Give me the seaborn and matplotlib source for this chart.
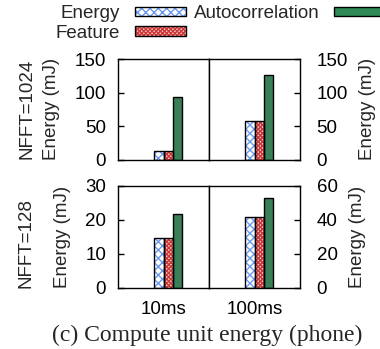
import matplotlib
matplotlib.use("Agg")
import matplotlib.pyplot as plt
from matplotlib.patches import Patch
from matplotlib.legend_handler import HandlerTuple
import seaborn as sns
import pandas as pd

# ---- data ----
groups = ["10ms", "100ms"]
series = ["Energy", "Feature", "Autocorrelation"]
nfft1024_energy = [13, 58]
nfft1024_feature = [13, 58]
nfft1024_autocorr = [93, 126]
nfft128_energy = [14.8, 41.7]
nfft128_feature = [14.8, 41.7]
nfft128_autocorr = [21.8, 52.8]
row_labels = ["NFFT=1024", "NFFT=128"]
yticks_top = [0, 50, 100, 150]
yticks_bottom_left = [0, 10, 20, 30]
yticks_bottom_right = [0, 20, 40, 60]

sns.set_theme(style="white")
plt.rcParams["font.family"] = ["Liberation Sans", "DejaVu Sans"]
plt.rcParams["font.size"] = 13.5
plt.rcParams["hatch.linewidth"] = 1.0

FS = 13.5

def make_df(e, f, a):
    rows = []
    for i, g in enumerate(groups):
        rows.append((g, "Energy", e[i]))
        rows.append((g, "Feature", f[i]))
        rows.append((g, "Autocorrelation", a[i]))
    return pd.DataFrame(rows, columns=["group", "series", "value"])

df_top = make_df(nfft1024_energy, nfft1024_feature, nfft1024_autocorr)
df_bot = make_df(nfft128_energy, nfft128_feature, nfft128_autocorr)

hue_order = ["_pad"] + series
fill_colors = {"_pad": "white", "Energy": "white", "Feature": "#f2c6c6", "Autocorrelation": "#2e8b57"}
hatch_colors = {"Energy": "#6a9af0", "Feature": "#cc3838"}
hatches = {"Energy": "xxxx", "Feature": "xxxxxxxx"}

fig = plt.figure(figsize=(3.8, 3.49), dpi=100)
W, H = 380, 349
def rect(x0, x1, ytop, ybot):
    return [x0 / W, 1 - ybot / H, (x1 - x0) / W, (ybot - ytop) / H]

axes = {
    (0, 0): fig.add_axes(rect(118, 209, 59, 160)),
    (0, 1): fig.add_axes(rect(209, 300, 59, 160)),
    (1, 0): fig.add_axes(rect(118, 209, 186, 288)),
    (1, 1): fig.add_axes(rect(209, 300, 186, 288)),
}

ylims = {(0, 0): 150, (0, 1): 150, (1, 0): 30, (1, 1): 60}
yticks = {(0, 0): yticks_top, (0, 1): yticks_top, (1, 0): yticks_bottom_left, (1, 1): yticks_bottom_right}

for (r, c), ax in axes.items():
    df = (df_top if r == 0 else df_bot)
    sub = df[df["group"] == groups[c]]
    # filled / hatched layer
    sns.barplot(data=sub, x="group", y="value", hue="series", hue_order=hue_order,
                palette=fill_colors, width=0.4, dodge=True, errorbar=None,
                linewidth=0, legend=False, ax=ax)
    bars = sorted(ax.patches, key=lambda p: p.get_x())
    for p, s in zip(bars, series):
        if s in hatches:
            p.set_hatch(hatches[s])
            p.set_edgecolor(hatch_colors[s])
            p.set_linewidth(0)
    # outline layer
    sns.barplot(data=sub, x="group", y="value", hue="series", hue_order=hue_order,
                fill=False, width=0.4, dodge=True, errorbar=None,
                edgecolor="black", linewidth=1.0, legend=False, ax=ax)
    for p in ax.patches[len(bars):]:
        p.set_edgecolor("black")
    ax.set_xlim(-0.5, 0.5)
    ax.set_ylim(0, ylims[(r, c)])
    ax.set_yticks(yticks[(r, c)])
    ax.set_xlabel("")
    ax.set_ylabel("")
    for sp in ax.spines.values():
        sp.set_visible(True)
        sp.set_color("black")
        sp.set_linewidth(1.0)
    if c == 0:
        ax.tick_params(axis="y", which="both", direction="in", length=4, width=1,
                       left=True, right=False, labelleft=True, labelright=False, pad=8.5,
                       labelsize=FS, colors="black")
    else:
        ax.yaxis.tick_right()
        ax.tick_params(axis="y", which="both", direction="in", length=4, width=1,
                       left=False, right=True, labelleft=False, labelright=True, pad=12,
                       labelsize=FS, colors="black")
    ax.tick_params(axis="x", length=0, pad=9, labelsize=FS, colors="black")
    if r == 0:
        ax.set_xticklabels([])
    ax.grid(False)

# y axis titles
ylab_pos = [(52, 109), (368, 109), (63, 237), (357, 237)]
for (x, y) in ylab_pos:
    fig.text(x / W, 1 - y / H, "Energy (mJ)", rotation=90, ha="center", va="center", fontsize=FS)

fig.text(27 / W, 1 - 109 / H, row_labels[0], rotation=90, ha="center", va="center", fontsize=FS)
fig.text(26 / W, 1 - 243 / H, row_labels[1], rotation=90, ha="center", va="center", fontsize=FS)

fig.text(207 / W, 1 - 335 / H, "(c) Compute unit energy (phone)", ha="center", va="center",
         fontsize=17, family=["Liberation Serif", "DejaVu Serif"])

def outline():
    return Patch(fill=False, edgecolor="black", linewidth=1)

handles = [
    (Patch(facecolor="white", edgecolor=hatch_colors["Energy"], hatch=hatches["Energy"], linewidth=0), outline()),
    (Patch(facecolor=fill_colors["Feature"], edgecolor=hatch_colors["Feature"], hatch=hatches["Feature"], linewidth=0), outline()),
    Patch(facecolor=fill_colors["Autocorrelation"], edgecolor="black", linewidth=1),
]
leg = fig.legend(handles, series, ncol=2, loc="upper left", bbox_to_anchor=(56 / W, 1 - 5 / H),
                 frameon=False, markerfirst=False, handlelength=2.7, handleheight=0.4,
                 handletextpad=0.8, columnspacing=0.4, labelspacing=0.15, borderpad=0,
                 borderaxespad=0, fontsize=FS, handler_map={tuple: HandlerTuple(ndivide=1)})

fig.savefig("out.png", dpi=100)
